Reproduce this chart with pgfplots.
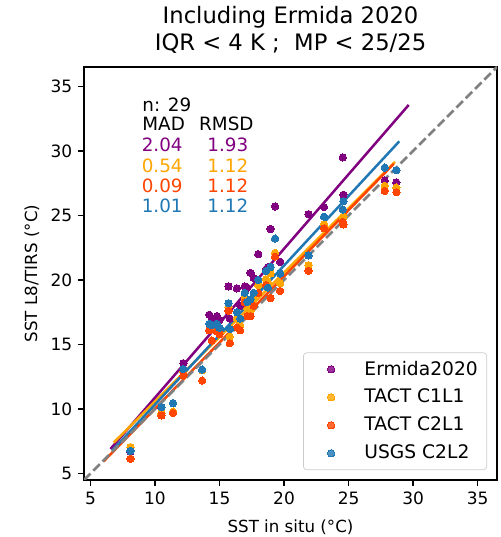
\documentclass[border=0pt]{standalone}
\usepackage{fontspec}
\setmainfont{DejaVu Sans}
\usepackage{pgfplots}
\usepackage{pgfplotstable}
\pgfplotsset{compat=1.18}
\definecolor{mpurple}{HTML}{800080}
\definecolor{morange}{HTML}{FFA500}
\definecolor{mred}{HTML}{FF4500}
\definecolor{mblue}{HTML}{1F77B4}
\pgfplotstableread{
x E C1 C2 U
8.1 6.7 7.05 6.15 6.75
10.5 10.1 9.65 9.5 10.15
11.4 9.75 9.8 9.7 10.45
12.2 13.55 12.9 12.6 13.1
13.65 13.0 13.0 12.2 13.05
14.2 17.3 16.1 16.1 16.6
14.4 16.9 16.3 15.3 16.5
14.8 17.2 16.4 16.0 16.6
15.0 16.9 15.9 15.8 16.3
15.7 19.5 17.9 17.6 18.2
15.8 17.0 15.6 15.1 16.2
16.35 19.35 17.0 16.3 17.5
16.6 18.0 16.5 16.1 17.0
16.95 19.5 18.6 18.25 19.0
17.15 19.4 17.8 17.2 18.3
17.4 20.55 17.6 17.2 18.5
17.65 20.15 18.5 18.0 19.0
18.0 22.0 19.6 19.0 20.0
18.6 20.8 20.05 19.6 20.7
18.75 21.0 19.8 19.4 19.4
18.95 23.95 20.5 18.6 21.0
19.3 25.7 22.1 21.8 23.2
19.7 21.4 19.75 19.15 20.5
21.9 25.1 21.15 20.7 21.9
23.1 25.65 24.3 24.0 24.9
24.55 29.5 24.8 24.5 25.45
24.6 26.6 24.9 24.3 26.1
27.8 27.7 27.3 26.9 28.7
28.7 27.55 27.15 26.8 28.5
}\data
\begin{document}
\begin{tikzpicture}
\begin{axis}[
  scale only axis, width=247.8pt, height=247.8pt,
  xmin=4.5, xmax=36.5, ymin=4.5, ymax=36.5,
  xtick={5,10,...,35}, ytick={5,10,...,35},
  xtick pos=bottom, ytick pos=left,
  tick align=outside, major tick length=3.5pt,
  tick style={black, line width=0.8pt},
  axis line style={line width=0.8pt},
  /pgf/number format/assume math mode=true,
  ticklabel style={font=\fontsize{10.2}{12}\selectfont},
  xlabel={SST in situ (°C)}, ylabel={SST L8/TIRS (°C)},
  label style={font=\fontsize{11.4}{13}\selectfont},
  every axis x label/.style={at={(axis description cs:0.5,-0.1155)}, anchor=center},
  every axis y label/.style={at={(axis description cs:-0.126,0.5)}, rotate=90, anchor=center},
  title={Including Ermida 2020\\IQR < 4 K ;\ \ MP < 25/25},
  every axis title/.style={at={(axis description cs:0.5,1.0896)}, anchor=center, align=center, font=\fontsize{13.6}{15.8}\selectfont},
  legend style={at={(0.976,0.024)}, anchor=south east, draw=black!20, rounded corners=2pt,
    fill=white, fill opacity=0.8, text opacity=1, font=\fontsize{11.2}{13}\selectfont,
    inner xsep=5.4pt, inner ysep=4.9pt, row sep=6.8pt, nodes={inner sep=0pt},
    /tikz/every odd column/.style={column sep=6.6pt}},
  legend cell align=left,
  legend image code/.code={\path[draw=none, fill=none] (0pt,-5pt) rectangle (24.6pt,5pt); \draw[#1] plot coordinates {(11.2pt,0pt)};},
]
\addplot[only marks, mark=*, mark size=2.2pt, mpurple, mark options={draw=mpurple, fill=mpurple, line width=0pt}] table[x=x, y=E] {\data};
\addlegendentry{Ermida2020}
\addplot[only marks, mark=*, mark size=2.2pt, morange, mark options={draw=morange, fill=morange, line width=0pt}] table[x=x, y=C1] {\data};
\addlegendentry{TACT C1L1}
\addplot[only marks, mark=*, mark size=2.2pt, mred, mark options={draw=mred, fill=mred, line width=0pt}] table[x=x, y=C2] {\data};
\addlegendentry{TACT C2L1}
\addplot[only marks, mark=*, mark size=2.2pt, mblue, mark options={draw=mblue, fill=mblue, line width=0pt}] table[x=x, y=U] {\data};
\addlegendentry{USGS C2L2}
\addplot[mpurple, line width=1.5pt, forget plot] coordinates {(6.55,6.9) (29.66,33.56)};
\addplot[morange, line width=1.5pt, forget plot] coordinates {(6.8,7.4) (28.6,29.15)};
\addplot[mred, line width=1.5pt, forget plot] coordinates {(6.03,5.95) (28.5,29.0)};
\addplot[mblue, line width=1.5pt, forget plot] coordinates {(6.68,6.77) (28.93,30.74)};
\addplot[gray, line width=1.6pt, dash pattern=on 5.5pt off 2.4pt, forget plot] coordinates {(4.5,4.5) (36.5,36.5)};
\coordinate (SW) at (rel axis cs:0,0);
\coordinate (NE) at (rel axis cs:1,1);
\begin{scope}[every node/.style={anchor=west, inner sep=0pt, font=\fontsize{11}{13}\selectfont}]
\node at (axis cs:9.0,33.56) {n: 29};
\node at (axis cs:9.0,32.1) {MAD};
\node at (axis cs:13.4,32.1) {RMSD};
\node[text=mpurple] at (axis cs:8.95,30.48) {2.04};
\node[text=mpurple] at (axis cs:14.04,30.48) {1.93};
\node[text=morange] at (axis cs:8.95,28.85) {0.54};
\node[text=morange] at (axis cs:14.04,28.85) {1.12};
\node[text=mred] at (axis cs:8.95,27.31) {0.09};
\node[text=mred] at (axis cs:14.04,27.31) {1.12};
\node[text=mblue] at (axis cs:8.95,25.75) {1.01};
\node[text=mblue] at (axis cs:14.04,25.75) {1.12};
\end{scope}
\end{axis}
\pgfresetboundingbox
\path[use as bounding box] ([shift={(-50.4pt,-34.2pt)}]SW) rectangle ([shift={(1.8pt,40.2pt)}]NE);
\end{tikzpicture}
\end{document}
